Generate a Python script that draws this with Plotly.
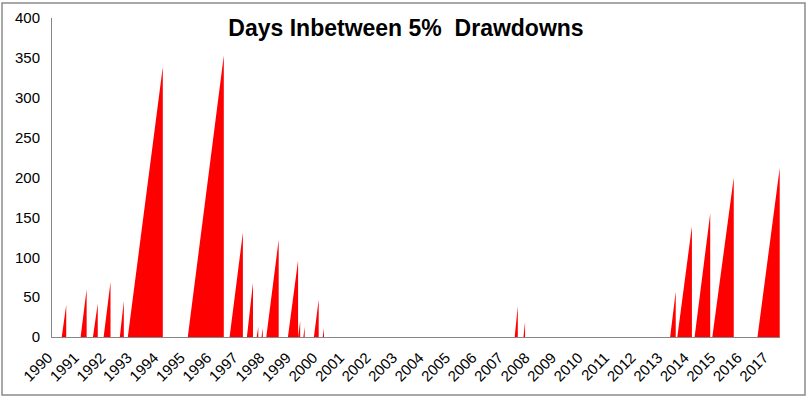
import plotly.graph_objects as go

# Each drawdown-free stretch: start date, date of last day, days counted at the peak
starts = ["1990-05-15", "1991-01-30", "1991-07-19", "1991-12-13", "1992-07-23",
          "1992-11-10", "1995-02-14", "1996-09-12", "1997-05-08", "1997-09-20",
          "1997-11-25", "1998-01-30", "1998-11-24", "1999-04-15", "1999-06-25",
          "1999-11-17", "2000-03-17", "2007-06-13", "2007-10-12", "2013-04-23",
          "2013-07-31", "2014-03-26", "2014-11-25", "2016-08-08"]
peaks = ["1990-07-16", "1991-04-23", "1991-09-23", "1992-03-17", "1992-09-16",
         "1994-03-07", "1996-06-24", "1997-03-14", "1997-07-31", "1997-10-12",
         "1997-12-13", "1998-07-20", "1999-04-13", "1999-05-12", "1999-07-13",
         "2000-01-22", "2000-04-04", "2007-07-26", "2007-11-03", "2013-07-09",
         "2014-02-17", "2014-10-27", "2015-09-16", "2017-06-10"]
peak_days = [40, 60, 42, 69, 45, 339, 353, 131, 68, 13, 11, 122, 96, 20, 13,
             47, 11, 39, 19, 57, 139, 155, 200, 212]

years = list(range(1990, 2018))
year_labels = [str(y) for y in years]
y_ticks = list(range(0, 401, 50))

xs, ys = [], []
for s, p, v in zip(starts, peaks, peak_days):
    xs += [s, p, p]
    ys += [0, v, 0]

fig = go.Figure()
fig.add_trace(go.Scatter(
    x=xs, y=ys, mode="lines", fill="tozeroy",
    line=dict(width=0, color="#FF0000"), fillcolor="#FF0000",
    hoverinfo="skip", showlegend=False,
))

axis_font = dict(family="Liberation Sans, Arial, sans-serif", size=15, color="#000000")

fig.update_layout(
    width=812, height=399,
    margin=dict(l=52, r=32, t=18, b=62, autoexpand=False),
    paper_bgcolor="#FFFFFF", plot_bgcolor="#FFFFFF",
    title=dict(text="<b>Days Inbetween 5%  Drawdowns</b>", x=0.5, xanchor="center",
               y=0.93, yanchor="middle", yref="container",
               font=dict(family="Liberation Sans, Arial, sans-serif", size=23, color="#000000")),
    xaxis=dict(type="date", range=["1990-01-01", "2017-06-14"], automargin=False,
               tickmode="array", tickvals=[f"{y}-01-01" for y in years], ticktext=year_labels,
               tickangle=-45, showgrid=False, zeroline=False, showline=True,
               linecolor="#868686", linewidth=1, ticks="", tickfont=axis_font,
               ticklabelstandoff=5, ticklabelshift=-4),
    yaxis=dict(range=[0, 400], tickmode="array", tickvals=y_ticks, automargin=False,
               ticktext=[str(v) for v in y_ticks], showgrid=False, zeroline=False,
               showline=True, linecolor="#868686", linewidth=1, ticks="",
               ticklabelstandoff=8, tickfont=axis_font),
    shapes=[dict(type="rect", xref="paper", yref="paper", xsizemode="pixel", ysizemode="pixel",
                 xanchor=0, yanchor=0, x0=-50, x1=753, y0=-58, y1=334,
                 line=dict(color="#8C8C8C", width=1.5), fillcolor="rgba(0,0,0,0)", layer="below")],
)

fig.write_html("out.html", config={"displayModeBar": False},
               post_script="document.body.style.margin='0';document.body.style.overflow='hidden';")
